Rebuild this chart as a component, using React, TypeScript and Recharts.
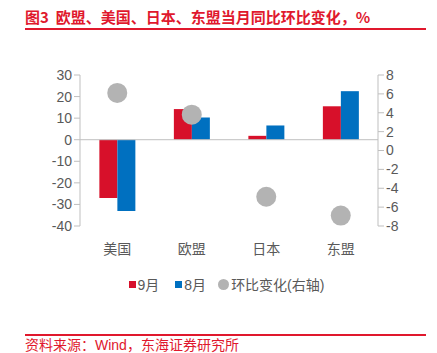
import React from 'react';
import {
  ComposedChart,
  Bar,
  Scatter,
  XAxis,
  YAxis,
  ReferenceLine,
} from 'recharts';

const regions = ['美国', '欧盟', '日本', '东盟'];
const sep = [-27, 14.2, 1.8, 15.5]; // 9月 同比
const aug = [-33, 10.3, 6.6, 22.5]; // 8月 同比
const mom = [6.1, 3.8, -4.9, -6.9]; // 环比变化(右轴)
const leftTicks = [-40, -30, -20, -10, 0, 10, 20, 30];
const rightTicks = [-8, -6, -4, -2, 0, 2, 4, 6, 8];

const data = regions.map((name, i) => ({
  name,
  sep: sep[i],
  aug: aug[i],
  mom: mom[i],
}));

const RED = '#d7102a';
const BLUE = '#0070c0';
const GRAY = '#b3b3b3';
const TEXT = '#595959';
const AXIS = '#bfbfbf';
const FONT = '"Liberation Sans", Arial, "Noto Sans CJK SC", sans-serif';

const Dot = (props: any) => (
  <circle cx={props.cx} cy={props.cy} r={10} fill={GRAY} />
);

const App = () => {
  return (
    <div
      style={{
        position: 'relative',
        width: 437,
        height: 353,
        background: '#fff',
        fontFamily: FONT,
      }}
    >
      <style>{'body{margin:0}'}</style>
      <div
        style={{
          position: 'absolute',
          left: 25,
          top: 6,
          fontSize: 15,
          fontWeight: 'bold',
          color: '#e0182d',
          whiteSpace: 'nowrap',
          fontFamily: '"Noto Sans CJK SC", sans-serif',
        }}
      >
        图3&nbsp;&nbsp;欧盟、美国、日本、东盟当月同比环比变化，%
      </div>
      <div
        style={{
          position: 'absolute',
          left: 25,
          top: 28,
          width: 401,
          height: 1.5,
          background: '#e0182d',
        }}
      />
      <div style={{ position: 'absolute', left: 0, top: 60 }}>
        <ComposedChart
          width={437}
          height={210}
          data={data}
          margin={{ top: 15, right: 19, bottom: 0, left: 20 }}
          barCategoryGap="26%"
          barGap={0}
        >
          <XAxis
            dataKey="name"
            axisLine={false}
            tickLine={false}
            height={44}
            tickMargin={12}
            tick={{ fill: TEXT, fontSize: 14, fontFamily: FONT }}
          />
          <YAxis
            yAxisId="left"
            domain={[-40, 30]}
            ticks={leftTicks}
            interval={0}
            width={60}
            stroke={AXIS}
            tick={{ fill: TEXT, fontSize: 14, fontFamily: FONT }}
          />
          <YAxis
            yAxisId="right"
            orientation="right"
            domain={[-8, 8]}
            ticks={rightTicks}
            interval={0}
            width={40}
            stroke={AXIS}
            tick={{ fill: TEXT, fontSize: 14, fontFamily: FONT }}
          />
          <Bar yAxisId="left" dataKey="sep" fill={RED} isAnimationActive={false} />
          <Bar yAxisId="left" dataKey="aug" fill={BLUE} isAnimationActive={false} />
          <ReferenceLine yAxisId="left" y={0} stroke={AXIS} />
          <Scatter
            yAxisId="right"
            dataKey="mom"
            fill={GRAY}
            shape={Dot}
            isAnimationActive={false}
          />
        </ComposedChart>
      </div>
      <div
        style={{
          position: 'absolute',
          left: 0,
          width: 437,
          top: 274,
          display: 'flex',
          justifyContent: 'center',
          alignItems: 'center',
          fontSize: 14,
          color: TEXT,
          paddingLeft: 16,
          boxSizing: 'border-box',
        }}
      >
        <span style={{ width: 7, height: 7, background: RED, marginRight: 2 }} />
        <span style={{ marginRight: 16 }}>9月</span>
        <span style={{ width: 7, height: 7, background: BLUE, marginRight: 2 }} />
        <span style={{ marginRight: 12 }}>8月</span>
        <span
          style={{
            width: 11,
            height: 11,
            borderRadius: '50%',
            background: GRAY,
            marginRight: 2,
          }}
        />
        <span>环比变化(右轴)</span>
      </div>
      <div
        style={{
          position: 'absolute',
          left: 25,
          top: 334,
          width: 401,
          height: 1.5,
          background: '#e0182d',
        }}
      />
      <div
        style={{
          position: 'absolute',
          left: 25,
          top: 338,
          fontSize: 14,
          lineHeight: '15px',
          color: '#e0182d',
          whiteSpace: 'nowrap',
        }}
      >
        资料来源：Wind，东海证券研究所
      </div>
    </div>
  );
};

export default App;
